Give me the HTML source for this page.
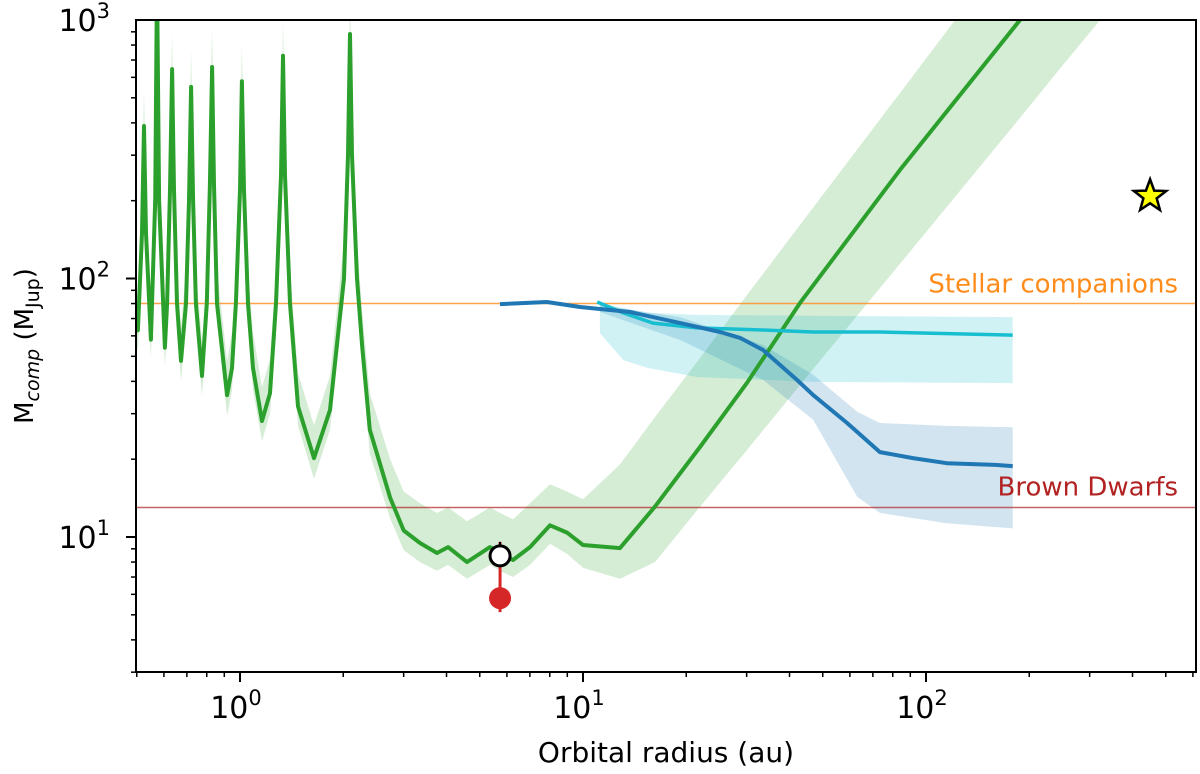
<!DOCTYPE html>
<html><head><meta charset="utf-8"><style>
html,body{margin:0;padding:0;background:#fff;}
svg{display:block;font-family:"DejaVu Sans","Liberation Sans",sans-serif;}
</style></head><body>
<svg id="chart" width="1200" height="774" viewBox="0 0 1200 774">
<defs><clipPath id="clip"><rect x="136" y="20" width="1060" height="652"/></clipPath></defs>
<g id="plot" clip-path="url(#clip)"></g>
<g id="axes"></g>
</svg>
<script>
const greenX=[0.497,0.504,0.518,0.525,0.532,0.550,0.566,0.573,0.581,0.604,0.613,0.625,0.634,0.642,0.655,0.673,0.696,0.710,0.720,0.730,0.744,0.775,0.80,0.817,0.829,0.840,0.857,0.917,0.948,0.973,1.0,1.013,1.027,1.055,1.091,1.159,1.223,1.273,1.317,1.335,1.353,1.399,1.476,1.643,1.83,2.01,2.065,2.093,2.121,2.193,2.27,2.39,2.74,3.0,3.348,3.752,4.042,4.590,5.357,5.728,6.251,7.007,8.013,8.983,10,12.82,16.2,21.93,30.06,42.9,84,188,250,400];
const greenY=[66,63,150,389,150,58,200,1500,200,54,80,220,646,220,80,48,80,200,551,200,80,42,80,230,658,230,80,35.4,45,80,220,580,220,80,45,28.1,36,80,250,727,250,80,32,20.2,31,100,300,883,300,100,55,26,14.2,10.6,9.48,8.67,9.14,8.0,9.14,8.67,8.15,9.14,11.1,10.4,9.31,9.06,13.1,22.3,39.5,80.3,263,1000,1660,2900];
const greenHi=[89,85,200,540,200,78,280,2000,280,73,108,300,900,300,108,65,108,280,770,280,108,57,108,320,920,320,108,48,62,108,300,810,300,108,62,38,49,108,340,1000,340,108,43,27,42,140,420,1200,420,140,75,36,20,15,13.5,12.4,13,11.5,13,12.4,11.7,13.5,16,15,14,19.1,29.1,49.2,86.3,161,522,2150,3570,8050];
const greenLo=[55,53,125,330,125,49,170,1200,170,45,67,185,550,185,67,40,67,170,470,170,67,35,67,195,560,195,67,29.5,37,67,185,490,185,67,37,23.5,30,67,210,610,210,67,27,16.8,26,84,250,740,250,84,46,21,11.8,8.9,8.0,7.4,7.8,6.9,7.8,7.4,7.0,7.8,9.4,8.6,7.6,6.9,8.0,13.1,21.7,38.7,114,418,667,1415];
const blueX=[5.73,7.85,9.8,13.7,19.2,25.1,28.7,33.5,42.1,46.9,58.9,73.4,91.6,115,159,179];
const blueY=[79.6,81.1,77.6,74.2,67.2,62.1,58.9,52.9,40.5,35.4,27.6,21.3,20.2,19.3,19.0,18.8];
const blueBandX=[11.2,19.2,33.5,46.9,63,73.4,115,179];
const blueHi=[78.9,70.9,55.3,42.4,30.5,27.6,26.9,26.6];
const blueLo=[74.2,57.8,40.5,28.4,14.3,12.4,11.3,10.8];
const cyanX=[11.0,13.1,16.0,21.5,33.5,46.9,73.4,179];
const cyanY=[81.1,73.6,67.2,64.4,63.2,62.1,62.1,60.4];
const cyanBandX=[11.2,13.1,15.4,21.5,46.9,179];
const cyanHi=[80.3,76.9,73.6,72.3,71.7,70.9];
const cyanLo=[61.5,48.4,45.1,41.6,39.8,39.4];
const stellarLimit=80, bdLimit=13;
const planetX=5.73, planetOpen=8.45, planetFilled=5.8;
const starX=450, starY=208;
const xTicks=[1,10,100], xTickExp=["0","1","2"];
const yTicks=[10,100,1000], yTickExp=["1","2","3"];

const NS="http://www.w3.org/2000/svg";
const L=136,R=1196,T=20,B=672;
function xs(v){return 240+343*Math.log10(v);}
function ys(v){return 20+258.5*(3-Math.log10(v));}
const plot=document.getElementById('plot'), axes=document.getElementById('axes');
function mk(tag,attrs,parent){const e=document.createElementNS(NS,tag);for(const k in attrs)e.setAttribute(k,attrs[k]);parent.appendChild(e);return e;}
function linePath(X,Y){return X.map((x,i)=>(i?'L':'M')+xs(x).toFixed(1)+','+ys(Y[i]).toFixed(1)).join('');}
function bandPath(X,H,Lo){let d=X.map((x,i)=>(i?'L':'M')+xs(x).toFixed(1)+','+ys(H[i]).toFixed(1)).join('');for(let i=X.length-1;i>=0;i--)d+='L'+xs(X[i]).toFixed(1)+','+ys(Lo[i]).toFixed(1);return d+'Z';}

let e;
e=mk('path',{d:bandPath(greenX,greenHi,greenLo),fill:'#2ca02c','fill-opacity':0.2},plot);


e=mk('path',{d:bandPath(blueBandX,blueHi,blueLo),fill:'#1f77b4','fill-opacity':0.2},plot);


e=mk('path',{d:bandPath(cyanBandX,cyanHi,cyanLo),fill:'#17becf','fill-opacity':0.2},plot);


e=mk('line',{x1:L,x2:R,y1:ys(stellarLimit),y2:ys(stellarLimit),stroke:'#ff8c1a','stroke-width':1.5,'stroke-opacity':0.8},plot);


e=mk('line',{x1:L,x2:R,y1:ys(bdLimit),y2:ys(bdLimit),stroke:'#b22222','stroke-width':1.5,'stroke-opacity':0.7},plot);


e=mk('path',{d:linePath(greenX,greenY),fill:'none',stroke:'#2ca02c','stroke-width':4,'stroke-linejoin':'round'},plot);


e=mk('path',{d:linePath(cyanX,cyanY),fill:'none',stroke:'#17becf','stroke-width':3.5,'stroke-linejoin':'round'},plot);


e=mk('path',{d:linePath(blueX,blueY),fill:'none',stroke:'#1f77b4','stroke-width':4,'stroke-linejoin':'round'},plot);


e=mk('line',{x1:xs(planetX),x2:xs(planetX),y1:ys(planetOpen)-14,y2:ys(planetFilled)+14,stroke:'#d62728','stroke-width':3},plot);


e=mk('line',{x1:xs(planetX),x2:xs(planetX),y1:ys(planetOpen)-14,y2:ys(planetOpen),stroke:'#000','stroke-width':2},plot);


e=mk('circle',{cx:xs(planetX),cy:ys(planetFilled),r:11,fill:'#d62728'},plot);


e=mk('circle',{cx:xs(planetX),cy:ys(planetOpen),r:10,fill:'#fff',stroke:'#000','stroke-width':3},plot);


{const cx=xs(starX),cy=ys(starY),ro=17,ri=7;let p=[];for(let i=0;i<10;i++){const a=-Math.PI/2+i*Math.PI/5,r=i%2?ri:ro;p.push((cx+r*Math.cos(a)).toFixed(1)+','+(cy+r*Math.sin(a)).toFixed(1));}
e=mk('polygon',{points:p.join(' '),fill:'#ffff00',stroke:'#000','stroke-width':2.5,'stroke-linejoin':'miter'},plot);

}
e=mk('text',{x:1178,y:ys(stellarLimit)-11,'text-anchor':'end','font-size':26,fill:'#ff8c1a'},plot);
e.textContent='Stellar companions';


e=mk('text',{x:1178,y:ys(bdLimit)-12,'text-anchor':'end','font-size':26,fill:'#b22222'},plot);
e.textContent='Brown Dwarfs';



e=mk('rect',{x:L,y:T,width:R-L,height:B-T,fill:'none',stroke:'#000','stroke-width':2},axes);


for(let d=-1;d<=2;d++){for(let m=1;m<=9;m++){const v=m*Math.pow(10,d);const x=xs(v);if(x<L-0.5||x>R+0.5)continue;const maj=m===1;
e=mk('line',{x1:x,x2:x,y1:B,y2:B+(maj?10:5),stroke:'#000','stroke-width':maj?2:1.5},axes);

}}
xTicks.forEach((v,i)=>{const t=mk('text',{x:xs(v)-4,y:718,'text-anchor':'middle','font-size':30,fill:'#000'},axes);


t.appendChild(document.createTextNode('10'));const s=mk('tspan',{dy:-13,'font-size':21},t);s.textContent=xTickExp[i];});
for(let d=0;d<=2;d++){for(let m=1;m<=9;m++){const v=m*Math.pow(10,d);const y=ys(v);if(y<T-0.5||y>B+0.5)continue;const maj=m===1;
e=mk('line',{x1:L,x2:L-(maj?10:5),y1:y,y2:y,stroke:'#000','stroke-width':maj?2:1.5},axes);

}}
yTicks.forEach((v,i)=>{const t=mk('text',{x:110,y:ys(v)+11,'text-anchor':'end','font-size':30,fill:'#000'},axes);


t.appendChild(document.createTextNode('10'));const s=mk('tspan',{dy:-13,'font-size':21},t);s.textContent=yTickExp[i];});
e=mk('text',{x:666,y:762,'text-anchor':'middle','font-size':28,fill:'#000'},axes);
e.textContent='Orbital radius (au)';


{const t=mk('text',{transform:'translate(33,346) rotate(-90)','text-anchor':'middle','font-size':26,fill:'#000'},axes);


t.appendChild(document.createTextNode('M'));let s=mk('tspan',{dy:6,'font-size':19,'font-style':'italic'},t);s.textContent='comp';
s=mk('tspan',{dy:-6},t);s.textContent=' (M';s=mk('tspan',{dy:6,'font-size':19},t);s.textContent='Jup';s=mk('tspan',{dy:-6},t);s.textContent=')';}
</script>
</body></html>
